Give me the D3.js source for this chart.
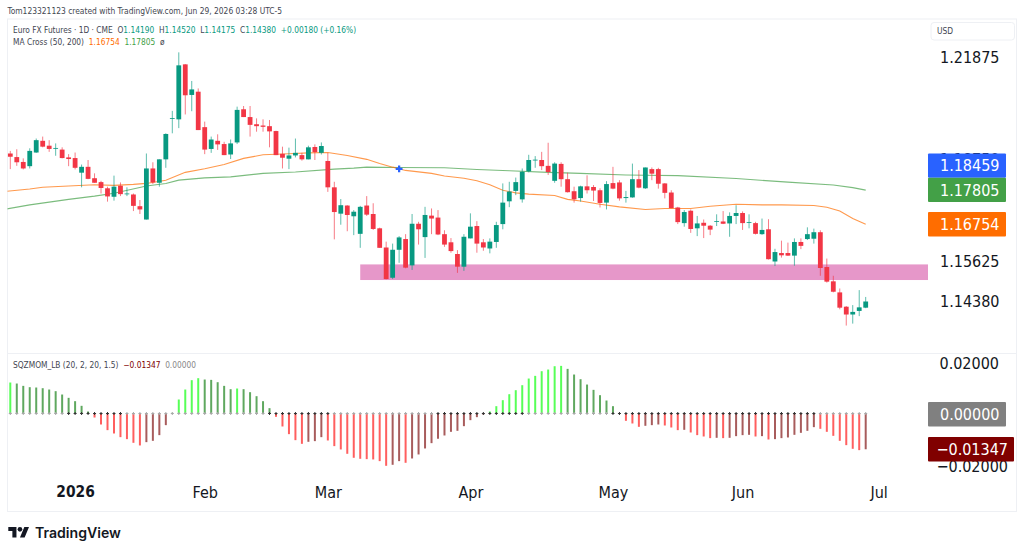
<!DOCTYPE html>
<html>
<head>
<meta charset="utf-8">
<title>Euro FX Futures</title>
<script src="https://cdn.jsdelivr.net/npm/d3@7/dist/d3.min.js"></script>
<style>
html,body{margin:0;padding:0;background:#fff;}
svg{display:block;}
text{font-family:"DejaVu Sans Condensed","DejaVu Sans",sans-serif;}
</style>
</head>
<body>
<svg id="chart" width="1024" height="554"></svg>
<script>
// Daily candles, one entry per session
const opens=[1.1893,1.1882,1.1867,1.1854,1.1896,1.1932,1.1917,1.1908,1.1905,1.1881,
1.1879,1.1834,1.1852,1.1817,1.1805,1.1786,1.1760,1.1794,1.1768,1.1767,
1.1731,1.1690,1.1847,1.1803,1.1875,1.2000,1.1998,1.2167,1.2073,1.2083,
1.1974,1.1907,1.1932,1.1922,1.1890,1.1927,1.2029,1.2005,1.1983,1.1979,
1.1977,1.1962,1.1892,1.1877,1.1887,1.1888,1.1875,1.1913,1.1895,1.1870,
1.1789,1.1708,1.1733,1.1700,1.1646,1.1733,1.1707,1.1663,1.1604,1.1511,
1.1597,1.1630,1.1549,1.1677,1.1636,1.1702,1.1696,1.1645,1.1620,1.1584,
1.1545,1.1632,1.1670,1.1620,1.1601,1.1621,1.1676,1.1746,1.1778,1.1752,
1.1838,1.1872,1.1873,1.1855,1.1809,1.1861,1.1814,1.1777,1.1756,1.1792,
1.1790,1.1780,1.1742,1.1802,1.1804,1.1756,1.1758,1.1814,1.1786,1.1845,
1.1845,1.1801,1.1773,1.1727,1.1679,1.1717,1.1663,1.1680,1.1671,1.1683,
1.1684,1.1678,1.1701,1.1710,1.1680,1.1679,1.1645,1.1660,1.1561,1.1587,
1.1587,1.1579,1.1621,1.1630,1.1631,1.1651,1.1544,1.1500,1.1466,1.1422,
1.1398,1.1409,1.14190];
const highs=[1.1901,1.1906,1.1878,1.1909,1.1939,1.1945,1.1934,1.1924,1.1912,1.1891,
1.1896,1.1859,1.1873,1.1832,1.1809,1.1791,1.1825,1.1804,1.1789,1.1770,
1.1750,1.1893,1.1866,1.1875,1.1955,1.2024,1.2204,1.2168,1.2116,1.2093,
1.1991,1.1945,1.1952,1.1929,1.1936,1.2037,1.2039,1.2039,1.2001,1.1998,
1.1996,1.1963,1.1914,1.1911,1.1939,1.1895,1.1917,1.1921,1.1927,1.1895,
1.1806,1.1753,1.1734,1.1719,1.1732,1.1762,1.1740,1.1665,1.1622,1.1616,
1.1639,1.1645,1.1707,1.1683,1.1729,1.1724,1.1719,1.1657,1.1633,1.1596,
1.1645,1.1709,1.1685,1.1630,1.1632,1.1683,1.1801,1.1806,1.1819,1.1847,
1.1889,1.1885,1.1898,1.1926,1.1866,1.1866,1.1834,1.1791,1.1794,1.1826,
1.1796,1.1786,1.1808,1.1852,1.1811,1.1778,1.1862,1.1842,1.1850,1.1850,
1.1849,1.1802,1.1780,1.1729,1.1719,1.1721,1.1701,1.1690,1.1673,1.1706,
1.1716,1.1712,1.1734,1.1715,1.1706,1.1683,1.1693,1.1691,1.1600,1.1625,
1.1619,1.1632,1.1632,1.1666,1.1662,1.1657,1.1570,1.1517,1.1478,1.1424,
1.1427,1.1473,1.14520];
const lows=[1.1845,1.1855,1.1844,1.1847,1.1895,1.1912,1.1898,1.1886,1.1878,1.1854,
1.1844,1.1789,1.1814,1.1803,1.1770,1.1745,1.1748,1.1762,1.1762,1.1716,
1.1707,1.1690,1.1799,1.1791,1.1849,1.1955,1.1971,1.2013,1.2023,1.1965,
1.1891,1.1895,1.1904,1.1888,1.1876,1.1922,1.2005,1.1945,1.1960,1.1960,
1.1912,1.1888,1.1847,1.1845,1.1881,1.1871,1.1875,1.1873,1.1890,1.1775,
1.1629,1.1674,1.1654,1.1642,1.1603,1.1701,1.1658,1.1603,1.1506,1.1507,
1.1557,1.1540,1.1535,1.1613,1.1572,1.1645,1.1642,1.1606,1.1588,1.1526,
1.1532,1.1632,1.1588,1.1594,1.1586,1.1603,1.1660,1.1728,1.1765,1.1742,
1.1835,1.1849,1.1842,1.1827,1.1803,1.1791,1.1773,1.1742,1.1745,1.1770,
1.1747,1.1727,1.1721,1.1783,1.1748,1.1742,1.1757,1.1786,1.1784,1.1811,
1.1785,1.1755,1.1725,1.1676,1.1668,1.1649,1.1639,1.1633,1.1642,1.1670,
1.1676,1.1637,1.1676,1.1658,1.1663,1.1644,1.1643,1.1567,1.1547,1.1573,
1.1578,1.1548,1.1599,1.1627,1.1616,1.1517,1.1496,1.1466,1.1414,1.1364,
1.1370,1.1393,1.14175];
const closes=[1.1883,1.1866,1.1847,1.1901,1.1934,1.1914,1.1907,1.1910,1.1879,1.1876,
1.1849,1.1852,1.1815,1.1803,1.1787,1.1761,1.1791,1.1768,1.1770,1.1732,
1.1721,1.1847,1.1804,1.1875,1.1953,1.2002,1.2164,1.2072,1.2090,1.1965,
1.1905,1.1936,1.1921,1.1888,1.1924,1.2027,1.2005,1.1981,1.1977,1.1975,
1.1961,1.1888,1.1880,1.1887,1.1895,1.1875,1.1912,1.1897,1.1916,1.1789,
1.1713,1.1734,1.1704,1.1714,1.1729,1.1705,1.1661,1.1603,1.1507,1.1597,
1.1635,1.1542,1.1677,1.1660,1.1704,1.1693,1.1644,1.1613,1.1593,1.1545,
1.1637,1.1668,1.1616,1.1604,1.1622,1.1673,1.1742,1.1776,1.1805,1.1837,
1.1873,1.1874,1.1854,1.1836,1.1862,1.1814,1.1774,1.1752,1.1792,1.1780,
1.1779,1.1741,1.1799,1.1785,1.1755,1.1759,1.1814,1.1788,1.1850,1.1831,
1.1800,1.1772,1.1725,1.1682,1.1713,1.1661,1.1678,1.1671,1.1659,1.1685,
1.1677,1.1701,1.1710,1.1679,1.1682,1.1646,1.1658,1.1568,1.1590,1.1580,
1.1579,1.1621,1.1609,1.1645,1.1651,1.1541,1.1499,1.1468,1.1419,1.1398,
1.1406,1.1420,1.14380];

// Moving averages, sampled at these session numbers
const ma50Sessions=[-1,3,5,9,13,16,19,21,24,27,30,33,36,39,43,46,49,52,55,57,59,61,65,67,70,72,74,76,78,80,84,86,88,91,94,98,101,105,108,112,116,119,124,126,128,130,132];
const ma50Values=[1.1776,1.1784,1.1789,1.1793,1.1797,1.1795,1.1798,1.1801,1.1811,1.1835,1.1846,1.1859,1.1878,1.1889,1.1892,1.1895,1.1896,1.1887,1.1875,1.1862,1.1851,1.1841,1.1832,1.1824,1.1817,1.1809,1.1797,1.1780,1.1772,1.1768,1.1764,1.1752,1.1747,1.1737,1.1729,1.1721,1.1724,1.1724,1.1731,1.1737,1.1735,1.1735,1.1733,1.1728,1.1716,1.1693,1.16754];
const ma200Sessions=[-1,3,9,13,16,21,24,26,30,34,39,44,50,53,55,60,67,72,77,83,88,95,98,103,112,120,127,130,132];
const ma200Values=[1.1721,1.1735,1.1752,1.1762,1.1771,1.1793,1.1801,1.1811,1.1818,1.1821,1.1832,1.1836,1.1845,1.1848,1.1851,1.1850,1.1849,1.1844,1.1840,1.1835,1.1832,1.1827,1.1826,1.1825,1.1816,1.1805,1.1796,1.1788,1.17805];

// Golden/death cross marker
const crossSession=60;
const crossPrice=1.18459;

// Shaded support band
const zoneStartSession=54;
const zoneHigh=1.1552;
const zoneLow=1.1504;

// Squeeze momentum histogram, one value per session
const momentum=[0.01167,0.01129,0.01041,0.00991,0.00979,0.00953,0.00903,0.00841,0.00715,0.00590,
0.00464,0.00289,0.00075,-0.00151,-0.00414,-0.00627,-0.00753,-0.00891,-0.00966,-0.01104,
-0.01204,-0.01079,-0.01029,-0.00815,-0.00439,0.00025,0.00527,0.00903,0.01255,0.01330,
0.01280,0.01267,0.01179,0.01041,0.00916,0.00941,0.00916,0.00803,0.00652,0.00464,
0.00201,-0.00125,-0.00489,-0.00778,-0.01004,-0.01142,-0.01066,-0.01041,-0.00891,-0.01016,
-0.01229,-0.01355,-0.01518,-0.01668,-0.01706,-0.01719,-0.01731,-0.01794,-0.01970,-0.01932,
-0.01794,-0.01857,-0.01694,-0.01543,-0.01317,-0.01117,-0.00953,-0.00828,-0.00690,-0.00652,
-0.00477,-0.00251,-0.00138,-0.00038,0.00075,0.00276,0.00502,0.00728,0.00878,0.01066,
0.01317,0.01418,0.01593,0.01656,0.01781,0.01794,0.01681,0.01468,0.01292,0.01091,
0.00891,0.00690,0.00489,0.00276,0.00013,-0.00276,-0.00376,-0.00502,-0.00464,-0.00439,
-0.00414,-0.00452,-0.00527,-0.00627,-0.00615,-0.00715,-0.00815,-0.00866,-0.00928,-0.00916,
-0.00928,-0.00916,-0.00853,-0.00815,-0.00803,-0.00866,-0.00853,-0.00979,-0.00966,-0.00928,
-0.00903,-0.00803,-0.00728,-0.00652,-0.00514,-0.00577,-0.00690,-0.00841,-0.01029,-0.01192,
-0.01330,-0.01380,-0.01347];
// Runs of sessions where the squeeze is on (dark zero-line crosses)
const squeezeRuns=[[9,17],[40,49],[66,79],[93,124]];

// Axis labels
const monthSessions=[10,30,49,71,93,113,134];
const monthLabels=["2026","Feb","Mar","Apr","May","Jun","Jul"];
const priceTicks=[1.21875,1.1875,1.15625,1.14380];
const momentumTicks=[0.02,-0.02];

const lastMa50=1.16754, lastMa200=1.17805, lastMomentum=-0.01347, zeroLine=0;

// Colours
const UP="#089981", DOWN="#f23645", ORANGE="#ff6d00", GREEN="#43a047", BLUE="#2962ff";
const TEXT="#131722", LEGEND="#434651", FRAME="#eef0f4";
const LIME_BAR="#57ff57", GREEN_BAR="#5fa85f", RED_BAR="#ff5f5f", MAROON_BAR="#a85c5c";

// Pane geometry
const frame={left:7.5,top:19,right:1016.5,bottom:511.5};
const mainBottom=353.5, plotRight=928;

const svg=d3.select("#chart");
const x=d3.scaleLinear().domain([0,132]).range([10.3,865.7]);
const y=d3.scaleLinear().domain([1.21875,1.15625]).range([57.7,261]);
const yMom=d3.scaleLinear().domain([0.02,-0.02]).range([360.4,466.6]);

const defs=svg.append("defs");
defs.append("clipPath").attr("id","plot-clip").append("rect")
  .attr("x",frame.left).attr("y",frame.top).attr("width",plotRight-frame.left).attr("height",mainBottom-frame.top);

// Chart frame and pane divider
svg.append("rect").attr("x",frame.left).attr("y",frame.top)
  .attr("width",frame.right-frame.left).attr("height",frame.bottom-frame.top)
  .attr("fill","#fff").attr("stroke",FRAME).attr("stroke-width",1);
svg.append("line").attr("x1",frame.left).attr("x2",frame.right)
  .attr("y1",mainBottom).attr("y2",mainBottom).attr("stroke",FRAME);

// Attribution line
svg.append("text").attr("x",7.5).attr("y",14).attr("font-size",8.4).attr("fill",LEGEND)
  .text("Tom123321123 created with TradingView.com, Jun 29, 2026 03:28 UTC-5");

const main=svg.append("g").attr("clip-path","url(#plot-clip)");

// Support band sits beneath the candles
main.append("rect").attr("x",x(zoneStartSession)).attr("width",plotRight-x(zoneStartSession))
  .attr("y",y(zoneHigh)).attr("height",y(zoneLow)-y(zoneHigh)).attr("fill","#e697c9");

// Moving averages
const lineGen=d3.line().x(d=>x(d[0])).y(d=>y(d[1]));
main.append("path").datum(d3.zip(ma200Sessions,ma200Values)).attr("d",lineGen)
  .attr("fill","none").attr("stroke",GREEN).attr("stroke-opacity",.7).attr("stroke-width",1.1);
main.append("path").datum(d3.zip(ma50Sessions,ma50Values)).attr("d",lineGen)
  .attr("fill","none").attr("stroke",ORANGE).attr("stroke-opacity",.7).attr("stroke-width",1.1);

// Candles
const candle=main.selectAll("g.candle").data(d3.range(opens.length)).join("g").attr("class","candle");
candle.append("line")
  .attr("x1",i=>x(i)).attr("x2",i=>x(i))
  .attr("y1",i=>y(highs[i])).attr("y2",i=>y(lows[i]))
  .attr("stroke",i=>closes[i]>=opens[i]?UP:DOWN).attr("stroke-opacity",.65).attr("stroke-width",1);
candle.append("rect")
  .attr("x",i=>x(i)-2.4).attr("width",4.8)
  .attr("y",i=>y(Math.max(opens[i],closes[i])))
  .attr("height",i=>Math.max(0.8,Math.abs(y(opens[i])-y(closes[i]))))
  .attr("fill",i=>closes[i]>=opens[i]?UP:DOWN);

// Cross marker
main.append("path").attr("d",d3.symbol(d3.symbolCross,26)())
  .attr("transform",`translate(${x(crossSession)},${y(crossPrice)})`).attr("fill",BLUE);

// Momentum histogram: brightness follows whether the move is extending
const barColor=(v,i)=>{
  const prev=i>0?momentum[i-1]:0;
  return v>0?(v>prev?LIME_BAR:GREEN_BAR):(v<prev?RED_BAR:MAROON_BAR);
};
svg.append("g").selectAll("line").data(momentum).join("line")
  .attr("x1",(d,i)=>x(i)).attr("x2",(d,i)=>x(i))
  .attr("y1",yMom(zeroLine)).attr("y2",d=>yMom(d))
  .attr("stroke",barColor).attr("stroke-width",2);

// Squeeze crosses along the zero line
const inSqueeze=i=>squeezeRuns.some(r=>i>=r[0]&&i<=r[1]);
svg.append("g").selectAll("path").data(momentum).join("path")
  .attr("d",d3.symbol(d3.symbolCross,5)())
  .attr("transform",(d,i)=>`translate(${x(i)},${yMom(zeroLine)})`)
  .attr("fill",(d,i)=>inSqueeze(i)?"#333":"#a8a8a8");

// Time axis
const xAxis=d3.axisBottom(x).tickValues(monthSessions).tickSize(0).tickPadding(0)
  .tickFormat((d,i)=>monthLabels[i]);
const xg=svg.append("g").attr("transform","translate(0,482)").call(xAxis);
xg.select(".domain").remove();
xg.selectAll("text").attr("font-family",null).attr("fill",TEXT).attr("dy","1em")
  .attr("font-size",(d,i)=>i===0?15.4:16).attr("font-weight",(d,i)=>i===0?"bold":"normal");

// Price scale labels
const yAxis=d3.axisRight(y).tickValues(priceTicks).tickSize(0).tickPadding(0)
  .tickFormat(d3.format(".5f"));
const yg=svg.append("g").attr("transform","translate(940,0)").call(yAxis);
yg.select(".domain").remove();
yg.selectAll("text").attr("font-size",16).attr("fill",TEXT).attr("font-family",null);

// Momentum scale labels; the upper one is held inside the pane
const mAxis=d3.axisRight(yMom).tickValues(momentumTicks).tickSize(0).tickPadding(0)
  .tickFormat(d=>d3.format(".5f")(d).replace("-","\u2212"));
const mg=svg.append("g").attr("transform","translate(1008,0)").call(mAxis);
mg.select(".domain").remove();
mg.selectAll("text").attr("font-size",16).attr("fill",TEXT).attr("font-family",null)
  .attr("text-anchor","end")
  .attr("transform",d=>d>0?"translate(-9,2.6)":null);

// Value tags on the price scales
function tag(cy,fill,value,right){
  svg.append("rect").attr("x",928).attr("y",cy-12.2).attr("width",right-928).attr("height",24.4)
    .attr("rx",1).attr("fill",fill);
  svg.append("text").attr("x",right===1014?1008:999.5).attr("y",cy).attr("dy","0.36em")
    .attr("text-anchor","end").attr("font-size",16).attr("fill","#fff").text(value);
}
tag(165.6,BLUE,crossPrice.toFixed(5),1006);
tag(189.9,GREEN,lastMa200.toFixed(5),1006);
tag(224.3,ORANGE,lastMa50.toFixed(5),1006);
tag(414.3,"#808080",zeroLine.toFixed(5),1006);
tag(449.3,"#800000",d3.format(".5f")(lastMomentum).replace("-","\u2212"),1014);

// Currency box
svg.append("rect").attr("x",931).attr("y",22.5).attr("width",83.5).attr("height",17.5).attr("rx",3)
  .attr("fill","#fff").attr("stroke",FRAME);
svg.append("text").attr("x",937).attr("y",34.2).attr("font-size",8.4).attr("fill",LEGEND).text("USD");

// Legend rows
function legendRow(px,py,parts){
  const t=svg.append("text").attr("x",px).attr("y",py).attr("font-size",8.3).attr("xml:space","preserve");
  parts.forEach(p=>t.append("tspan").attr("fill",p[1]).text(p[0]));
}
const last=opens.length-1;
const f5=d3.format(".5f");
const change=closes[last]-1.142;
legendRow(13,33.3,[["Euro FX Futures \u00b7 1D \u00b7 CME  ",LEGEND],
  ["O",LEGEND],[f5(opens[last])+"  ",UP],
  ["H",LEGEND],[f5(highs[last])+"  ",UP],
  ["L",LEGEND],[f5(lows[last])+"  ",UP],
  ["C",LEGEND],[f5(closes[last])+"  ",UP],
  ["+"+f5(change)+" (+0.16%)",UP]]);
legendRow(13,45.3,[["MA Cross (50, 200)  ",LEGEND],[f5(lastMa50)+"  ",ORANGE],[f5(lastMa200)+"  ",GREEN],["\u00f8",LEGEND]]);
legendRow(13,367.8,[["SQZMOM_LB (20, 2, 20, 1.5)  ",LEGEND],[f5(lastMomentum).replace("-","\u2212")+"  ","#800000"],[zeroLine.toFixed(5),"#888"]]);

// TradingView wordmark
const logo=svg.append("g").attr("transform","translate(8.3,524.7) scale(0.583)").attr("fill","#131722");
logo.append("path").attr("d","M14 22H7V11H0V4h14v18zM28 22h-8l7.5-18h8L28 22z");
logo.append("circle").attr("cx",20).attr("cy",8).attr("r",4);
svg.append("text").attr("x",35).attr("y",538.2).attr("font-size",14.1).attr("font-weight",600)
  .attr("fill","#131722").style("font-family","Inter, sans-serif").text("TradingView");
</script>
</body>
</html>
